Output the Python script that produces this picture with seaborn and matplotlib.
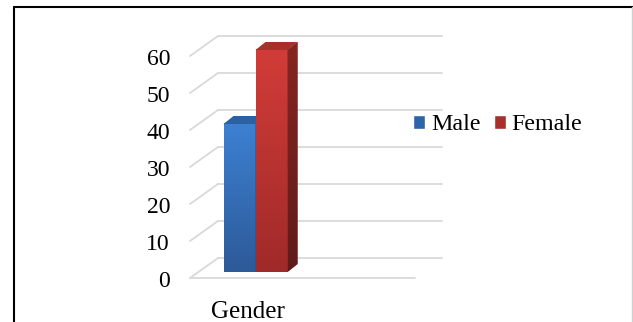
import numpy as np
import pandas as pd
import matplotlib
matplotlib.use("Agg")
import matplotlib.pyplot as plt
import matplotlib.transforms as mtransforms
from matplotlib.patches import Polygon
from matplotlib.lines import Line2D
from matplotlib.colors import to_rgb
import seaborn as sns

# ---- data ----
categories = ["Gender"]
series = ["Male", "Female"]
values = [40, 60]
yticks = [0, 10, 20, 30, 40, 50, 60]

df = pd.DataFrame({"category": categories * len(series), "series": series, "value": values})

sns.set_style("white")
plt.rcParams["font.family"] = ["Liberation Serif", "DejaVu Serif"]
plt.rcParams["text.color"] = "black"

W, H = 633, 322
fig = plt.figure(figsize=(W / 100, H / 100), dpi=100)

# axes placement in pixels
L, R, T, B = 175, 460, 20, 295
ax = fig.add_axes([L / W, (H - B) / H, (R - L) / W, (B - T) / H])

front_cols = {"Male": ("#3d80d2", "#2d5a98"), "Female": ("#d23c38", "#a02a29")}
side_cols = {"Male": ("#27508a", "#1f3f6e"), "Female": ("#862622", "#5f1b1a")}
top_cols = {"Male": "#2c60a3", "Female": "#a92f2b"}
legend_cols = ["#2f64a8", "#a8302c"]

sns.barplot(data=df, x="category", y="value", hue="series", hue_order=series,
            palette=legend_cols, saturation=1, width=0.8, ax=ax, zorder=2)

sx, sy = 80.0, 3.7       # px per data unit
cx, base_py = 255.5, 272  # pixel of x=0 and y=0
ax.set_xlim((L - cx) / sx, (R - cx) / sx)
ax.set_ylim(-(B - base_py) / sy, (base_py - T) / sy)

def X(px):
    return (px - cx) / sx

def Yoff(py_off):
    return -py_off / sy

# gridlines (3D walls)
grid_c = "#d9d9d9"
for v in yticks:
    yf = v + Yoff(6)
    yb = v + Yoff(-14)
    ax.plot([X(190), X(218)], [yf, yb], color=grid_c, lw=1.3, zorder=0.5)
    ax.plot([X(218), X(442)], [yb, yb], color=grid_c, lw=1.3, zorder=0.5)
ax.plot([X(190), X(415)], [Yoff(6), Yoff(6)], color=grid_c, lw=1.3, zorder=0.5)

def grad(c_top, c_bot, n=128):
    a = np.array(to_rgb(c_top)); b = np.array(to_rgb(c_bot))
    t = np.linspace(0, 1, n)[:, None]
    return (a * (1 - t) + b * t)[:, None, :]

dx, dy = 10 / sx, 8 / sy
bars = list(ax.patches)
for i, (p, name) in enumerate(zip(bars, series)):
    z = 2 + i
    x0, w, h = p.get_x(), p.get_width(), p.get_height()
    x1 = x0 + w
    p.set_zorder(z)
    p.set_edgecolor("none")
    ax.imshow(grad(*front_cols[name]), extent=[x0, x1, 0, h], origin="upper",
              aspect="auto", zorder=z + 0.1, interpolation="bilinear")
    side = Polygon([(x1, 0), (x1 + dx, dy), (x1 + dx, h + dy), (x1, h)], closed=True,
                   facecolor=side_cols[name][0], edgecolor="none", zorder=z + 0.1)
    ax.add_patch(side)
    im2 = ax.imshow(grad(*side_cols[name]), extent=[x1, x1 + dx, 0, h + dy], origin="upper",
                    aspect="auto", zorder=z + 0.15, interpolation="bilinear")
    im2.set_clip_path(side)
    top = Polygon([(x0, h), (x1, h), (x1 + dx, h + dy), (x0 + dx, h + dy)], closed=True,
                  facecolor=top_cols[name], edgecolor="none", zorder=z + 0.2)
    ax.add_patch(top)

ax.set_xlim((L - cx) / sx, (R - cx) / sx)
ax.set_ylim(-(B - base_py) / sy, (base_py - T) / sy)

for s in ax.spines.values():
    s.set_visible(False)
ax.set_xlabel("")
ax.set_ylabel("")
ax.set_yticks(yticks)
ax.set_yticklabels([str(v) for v in yticks])
ax.set_xticks([0])
ax.set_xticklabels(categories)
ax.tick_params(axis="y", length=0, pad=3.6, labelsize=17, labelcolor="black")
ax.tick_params(axis="x", length=0, pad=4, labelsize=18, labelcolor="black")
for lab in ax.get_yticklabels():
    lab.set_transform(lab.get_transform() + mtransforms.ScaledTranslation(0, -0.07, fig.dpi_scale_trans))
for lab in ax.get_xticklabels():
    lab.set_transform(lab.get_transform() + mtransforms.ScaledTranslation(-0.08, 0, fig.dpi_scale_trans))

handles, labels = ax.get_legend_handles_labels()
if ax.get_legend() is not None:
    ax.get_legend().remove()
leg = ax.legend(handles, labels, loc="center left", bbox_to_anchor=(413 / W, 1 - 125 / H),
                bbox_transform=fig.transFigure, ncol=2, frameon=False, fontsize=17.3,
                handlelength=0.5, handleheight=0.5, handletextpad=0.25, columnspacing=0.55,
                borderpad=0, borderaxespad=0, labelcolor="black")

# chart border
fig.add_artist(Line2D([14 / W, 1], [1 - 7 / H, 1 - 7 / H], transform=fig.transFigure, color="black", lw=1.5))
fig.add_artist(Line2D([14 / W, 14 / W], [0, 1 - 7 / H], transform=fig.transFigure, color="black", lw=1.5))
fig.add_artist(Line2D([631.5 / W, 631.5 / W], [0, 1 - 7 / H], transform=fig.transFigure, color="#d0d0d0", lw=1))

fig.savefig("out.png", dpi=100)
